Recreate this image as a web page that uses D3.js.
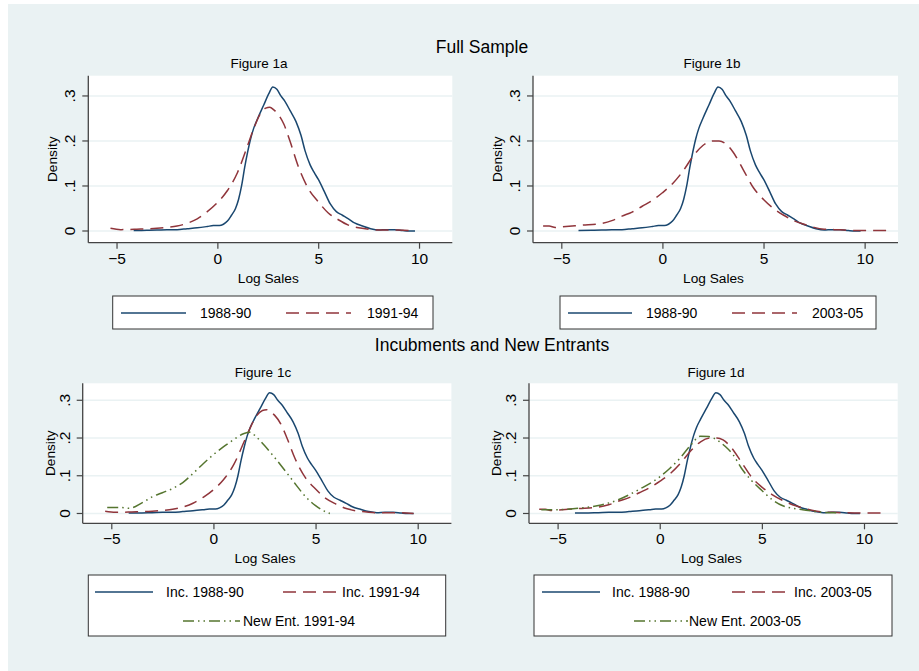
<!DOCTYPE html>
<html>
<head>
<meta charset="utf-8">
<script src="https://cdn.jsdelivr.net/npm/d3@7"></script>
<style>
body { margin: 0; background: #fff; }
svg { display: block; font-family: "Liberation Sans", Arial, sans-serif; }
</style>
</head>
<body>
<svg id="chart" width="919" height="671"></svg>
<script>
// tick values / labels
const xTicks = [-5, 0, 5, 10]
const yTicks = [0, .1, .2, .3]
const yTickLabels = ['0', '.1', '.2', '.3']

// kernel densities of log sales as [x, density]
const inc8890 = [[-4.15,0.001],[-3.5,0.0015],[-3,0.002],[-2.5,0.003],[-2,0.003],[-1.5,0.005],[-1,0.007],[-0.5,0.010],[-0.2,0.012],[0.1,0.012],[0.3,0.015],[0.5,0.022],[0.7,0.035],[0.9,0.05],[1.05,0.07],[1.2,0.10],[1.35,0.14],[1.5,0.175],[1.65,0.205],[1.8,0.228],[2.0,0.25],[2.3,0.28],[2.55,0.305],[2.75,0.32],[2.95,0.315],[3.15,0.3],[3.35,0.288],[3.6,0.268],[3.9,0.243],[4.15,0.212],[4.35,0.178],[4.6,0.147],[4.8,0.13],[5.0,0.115],[5.3,0.088],[5.6,0.06],[5.9,0.043],[6.2,0.035],[6.5,0.027],[6.8,0.018],[7.2,0.011],[7.6,0.005],[8.0,0.002],[8.4,0.003],[8.8,0.003],[9.2,0.001],[9.5,0.0],[9.8,0.0]]

const inc9194 = [[-5.3,0.006],[-4.8,0.003],[-4,0.004],[-3,0.006],[-2.5,0.008],[-2,0.011],[-1.5,0.017],[-1,0.027],[-0.5,0.043],[0,0.063],[0.5,0.09],[1.0,0.13],[1.5,0.19],[1.8,0.227],[2.1,0.258],[2.4,0.273],[2.6,0.275],[2.8,0.269],[3.0,0.26],[3.3,0.237],[3.6,0.2],[4.0,0.145],[4.5,0.095],[5.0,0.065],[5.5,0.04],[6.0,0.025],[6.5,0.013],[7.0,0.007],[7.5,0.004],[8,0.002],[9,0.002],[9.8,0.0]]

const inc0305 = [[-5.9,0.011],[-5.6,0.011],[-5.3,0.008],[-5,0.009],[-4,0.013],[-3,0.017],[-2.5,0.023],[-2,0.033],[-1.5,0.042],[-1,0.055],[-0.5,0.068],[0,0.085],[0.5,0.105],[1.0,0.132],[1.5,0.165],[2.0,0.19],[2.5,0.2],[2.8,0.2],[3.1,0.195],[3.5,0.175],[4.0,0.136],[4.5,0.096],[5.0,0.07],[5.5,0.05],[6.0,0.035],[6.5,0.023],[7.0,0.015],[7.5,0.008],[8,0.004],[8.5,0.003],[9,0.002],[10,0.001],[11.1,0.001]]

const new9194 = [[-5.2,0.016],[-4.6,0.016],[-4.1,0.014],[-3.5,0.028],[-3,0.044],[-2.5,0.055],[-2,0.066],[-1.5,0.082],[-1,0.106],[-0.5,0.132],[0,0.156],[0.5,0.177],[1.0,0.196],[1.5,0.212],[1.8,0.215],[2.1,0.203],[2.5,0.18],[3.0,0.148],[3.5,0.114],[4.0,0.079],[4.5,0.045],[5.0,0.021],[5.4,0.007],[5.7,0.0]]

const new0305 = [[-5.8,0.01],[-5,0.01],[-4,0.014],[-3,0.021],[-2,0.037],[-1,0.064],[0,0.097],[0.5,0.12],[1,0.147],[1.5,0.18],[2,0.205],[2.4,0.204],[2.8,0.195],[3.2,0.178],[3.6,0.155],[4,0.12],[4.5,0.087],[5,0.061],[5.5,0.037],[6,0.021],[6.5,0.014],[7,0.01],[7.5,0.006],[8,0.003],[8.65,0.002]]

const styles = {
    inc: { color: '#1a476f', dash: null },
    later: { color: '#90353b', dash: '13,7' },
    entrant: { color: '#55752f', dash: '11,4,1.5,4,1.5,4' }
}

const xDomain = [-6.4, 11.65],
    yDomain = [-0.026, 0.345]

const panels = [
    { title: 'Figure 1a', tx: 259, ty: 68, left: 88.3, right: 452.3, top: 75.7, bottom: 242.7,
      box: [112.7, 296, 433, 329],
      series: [
        { data: inc8890, style: 'inc', label: '1988-90', row: 0, l: [121, 186], t: 200 },
        { data: inc9194, style: 'later', label: '1991-94', row: 0, l: [286, 351], t: 367 }
      ] },
    { title: 'Figure 1b', tx: 712, ty: 68, left: 533, right: 898, top: 75.7, bottom: 242.7,
      box: [560, 296, 876, 329],
      series: [
        { data: inc8890, style: 'inc', label: '1988-90', row: 0, l: [568, 632], t: 646 },
        { data: inc0305, style: 'later', label: '2003-05', row: 0, l: [732, 797], t: 812 }
      ] },
    { title: 'Figure 1c', tx: 263, ty: 377, left: 82.7, right: 451.4, top: 383.3, bottom: 523.3,
      box: [88.3, 575, 445.7, 636],
      series: [
        { data: inc8890, style: 'inc', label: 'Inc. 1988-90', row: 0, l: [95, 153], t: 166 },
        { data: inc9194, style: 'later', label: 'Inc. 1991-94', row: 0, l: [283, 337], t: 342 },
        { data: new9194, style: 'entrant', label: 'New Ent. 1991-94', row: 1, l: [183, 240], t: 243 }
      ] },
    { title: 'Figure 1d', tx: 716, ty: 377, left: 529, right: 897.7, top: 383.3, bottom: 523.3,
      box: [534, 575, 892, 636],
      series: [
        { data: inc8890, style: 'inc', label: 'Inc. 1988-90', row: 0, l: [542, 600], t: 612 },
        { data: inc0305, style: 'later', label: 'Inc. 2003-05', row: 0, l: [732, 786], t: 794 },
        { data: new0305, style: 'entrant', label: 'New Ent. 2003-05', row: 1, l: [634, 688], t: 689 }
      ] }
]

const svg = d3.select('#chart')

svg.append('rect')
    .attr('x', 8).attr('y', 4)
    .attr('width', 911).attr('height', 667)
    .attr('fill', '#eaf2f3')

svg.append('text')
    .attr('x', 482).attr('y', 53)
    .attr('text-anchor', 'middle')
    .style('font-size', '17.5px')
    .text('Full Sample')

svg.append('text')
    .attr('x', 492).attr('y', 351)
    .attr('text-anchor', 'middle')
    .style('font-size', '17.5px')
    .text('Incubments and New Entrants')

panels.forEach(drawPanel)

function drawPanel(p) {
    const x = d3.scaleLinear().domain(xDomain).range([p.left, p.right])
    const y = d3.scaleLinear().domain(yDomain).range([p.bottom, p.top])
    const g = svg.append('g')

    g.append('rect')
        .attr('x', p.left).attr('y', p.top)
        .attr('width', p.right - p.left).attr('height', p.bottom - p.top)
        .attr('fill', '#fff')

    // grid
    g.selectAll('line.grid')
        .data(yTicks)
        .enter().append('line')
        .attr('class', 'grid')
        .attr('x1', p.left).attr('x2', p.right)
        .attr('y1', d => y(d)).attr('y2', d => y(d))
        .attr('stroke', '#eaf2f3')
        .attr('stroke-width', 1.5)

    const line = d3.line()
        .x(d => x(d[0]))
        .y(d => y(d[1]))
        .curve(d3.curveMonotoneX)

    p.series.forEach(s => {
        g.append('path')
            .datum(s.data)
            .attr('d', line)
            .attr('fill', 'none')
            .attr('stroke', styles[s.style].color)
            .attr('stroke-width', 1.5)
            .attr('stroke-dasharray', styles[s.style].dash)
    })

    // axes
    const xAxis = g.append('g')
        .attr('transform', `translate(0, ${p.bottom})`)
        .call(d3.axisBottom(x).tickValues(xTicks).tickSize(6).tickPadding(4).tickSizeOuter(0))
    const yAxis = g.append('g')
        .attr('transform', `translate(${p.left}, 0)`)
        .call(d3.axisLeft(y).tickValues(yTicks).tickSize(6).tickSizeOuter(0).tickFormat((d, i) => yTickLabels[i]))

    ;[xAxis, yAxis].forEach(a => {
        a.select('.domain').attr('stroke', '#444').attr('stroke-width', 1.3)
            .attr('d', a === xAxis ? `M${p.left},0H${p.right}` : `M0,${p.top}V${p.bottom}`)
        a.selectAll('.tick line').attr('stroke', '#444').attr('stroke-width', 1.2)
        a.selectAll('text').attr('fill', '#000').style('font-family', '"Liberation Sans", Arial, sans-serif')
    })
    xAxis.selectAll('text').style('font-size', '15.5px')
    yAxis.selectAll('text')
        .style('font-size', '15.5px')
        .attr('text-anchor', 'middle')
        .attr('dy', null)
        .attr('x', null)
        .attr('transform', d => `translate(-13, ${y(d)}) rotate(-90)`)
        .attr('y', 0)
    yAxis.selectAll('.tick').attr('transform', null)
    yAxis.selectAll('.tick line').attr('y1', d => y(d)).attr('y2', d => y(d))

    g.append('text')
        .attr('x', p.tx).attr('y', p.ty)
        .attr('text-anchor', 'middle')
        .style('font-size', '13.5px')
        .text(p.title)

    g.append('text')
        .attr('x', (p.left + p.right) / 2 - 2).attr('y', p.bottom + 40)
        .attr('text-anchor', 'middle')
        .style('font-size', '13.7px')
        .text('Log Sales')

    const dLeft = p.top > 300 ? 28 : 31
    g.append('text')
        .attr('transform', `translate(${p.left - dLeft}, ${(p.top + p.bottom) / 2 + (p.top > 300 ? 0 : 0)}) rotate(-90)`)
        .attr('text-anchor', 'middle')
        .style('font-size', '13.7px')
        .text('Density')

    // legend
    const [bx1, by1, bx2, by2] = p.box
    const lg = svg.append('g')
    lg.append('rect')
        .attr('x', bx1).attr('y', by1)
        .attr('width', bx2 - bx1).attr('height', by2 - by1)
        .attr('fill', '#fff')
        .attr('stroke', '#333')
        .attr('stroke-width', 1)
    p.series.forEach(s => {
        const ly = by1 + 17 + s.row * 29
        lg.append('line')
            .attr('x1', s.l[0]).attr('x2', s.l[1])
            .attr('y1', ly).attr('y2', ly)
            .attr('stroke', styles[s.style].color)
            .attr('stroke-width', 1.5)
            .attr('stroke-dasharray', styles[s.style].dash)
        lg.append('text')
            .attr('x', s.t).attr('y', ly + 5)
            .style('font-size', '14px')
            .text(s.label)
    })
}
</script>
</body>
</html>
